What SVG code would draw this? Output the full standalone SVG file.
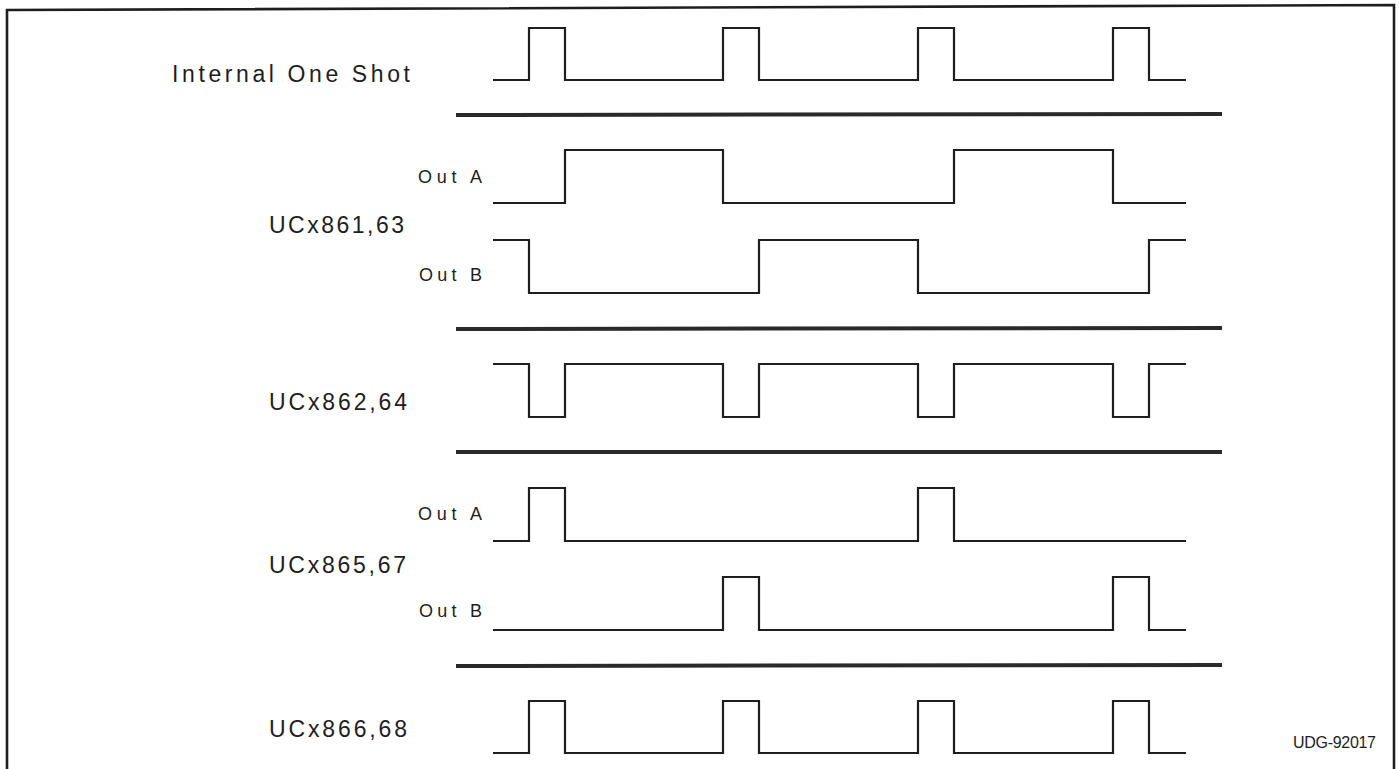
<svg xmlns="http://www.w3.org/2000/svg" width="1399" height="769" viewBox="0 0 1399 769">
<style>
.wave{fill:none;stroke:#1e1e1e;stroke-width:2.2;stroke-linejoin:miter;stroke-linecap:butt}
.sep{stroke:#2a2a2a;stroke-width:4}
.border{fill:none;stroke:#1e1e1e;stroke-width:2.6}
.lbl{font-family:"Liberation Sans",Arial,sans-serif;fill:#1e1e1e}
.big{font-size:23px}
.small{font-size:18px}
.tag{font-size:16px}
</style>
<rect x="0" y="0" width="1399" height="769" fill="#ffffff"/>
<path class="border" d="M7,790 L7,10 L1394,5 L1394,790"/>
<g id="separators">
<line class="sep" x1="456" y1="115" x2="1222" y2="114"/>
<line class="sep" x1="456" y1="329" x2="1222" y2="328"/>
<line class="sep" x1="456" y1="452" x2="1222" y2="452"/>
<line class="sep" x1="456" y1="666" x2="1222" y2="665"/>
</g>
<g id="internal-one-shot">
<text class="lbl big" x="172" y="82" textLength="238" lengthAdjust="spacing">Internal One Shot</text>
<path class="wave" d="M493,80 H529 V28 H565 V80 H723 V28 H759 V80 H918 V28 H954 V80 H1113 V28 H1149 V80 H1186"/>
</g>
<g id="ucx861-63">
<text class="lbl big" x="269" y="233" textLength="135" lengthAdjust="spacing">UCx861,63</text>
<g id="ucx861-outa">
<text class="lbl small" x="418" y="183" textLength="64" lengthAdjust="spacing">Out  A</text>
<path class="wave" d="M493,203 H565 V150 H723 V203 H954 V150 H1113 V203 H1186"/>
</g>
<g id="ucx861-outb">
<text class="lbl small" x="419" y="281" textLength="63" lengthAdjust="spacing">Out  B</text>
<path class="wave" d="M493,240 H529 V293 H759 V240 H918 V293 H1149 V240 H1186"/>
</g>
</g>
<g id="ucx862-64">
<text class="lbl big" x="269" y="410" textLength="138" lengthAdjust="spacing">UCx862,64</text>
<path class="wave" d="M493,364 H529 V417 H565 V364 H723 V417 H759 V364 H918 V417 H954 V364 H1113 V417 H1149 V364 H1186"/>
</g>
<g id="ucx865-67">
<text class="lbl big" x="269" y="573" textLength="137" lengthAdjust="spacing">UCx865,67</text>
<g id="ucx865-outa">
<text class="lbl small" x="418" y="520" textLength="64" lengthAdjust="spacing">Out  A</text>
<path class="wave" d="M493,541 H529 V488 H565 V541 H918 V488 H954 V541 H1186"/>
</g>
<g id="ucx865-outb">
<text class="lbl small" x="419" y="617" textLength="63" lengthAdjust="spacing">Out  B</text>
<path class="wave" d="M493,630 H723 V577 H759 V630 H1113 V577 H1149 V630 H1186"/>
</g>
</g>
<g id="ucx866-68">
<text class="lbl big" x="269" y="737" textLength="138" lengthAdjust="spacing">UCx866,68</text>
<path class="wave" d="M493,753 H529 V701 H565 V753 H723 V701 H759 V753 H918 V701 H954 V753 H1113 V701 H1149 V753 H1186"/>
</g>
<text id="figure-id" class="lbl tag" x="1293" y="748" textLength="83" lengthAdjust="spacing">UDG-92017</text>
</svg>
